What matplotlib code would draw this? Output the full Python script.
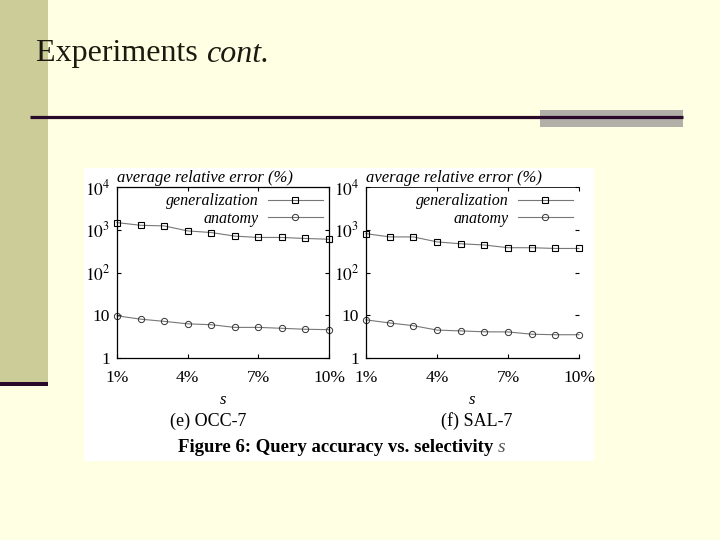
import matplotlib
matplotlib.use("Agg")
import matplotlib.pyplot as plt
from matplotlib.patches import Rectangle

plt.rcParams['font.family'] = ['Liberation Serif', 'DejaVu Serif']
plt.rcParams['mathtext.fontset'] = 'stix'

# data
sel = [1, 2, 3, 4, 5, 6, 7, 8, 9, 10]
occ_gen = [1470, 1270, 1230, 940, 860, 710, 660, 660, 625, 600]
occ_ana = [9.7, 8.1, 7.2, 6.3, 6.0, 5.2, 5.2, 4.95, 4.7, 4.6]
sal_gen = [810, 680, 680, 520, 470, 440, 380, 380, 365, 365]
sal_ana = [7.8, 6.6, 5.7, 4.5, 4.3, 4.1, 4.07, 3.6, 3.5, 3.5]

xticks = [1, 4, 7, 10]
xticklabels = ['1%', '4%', '7%', '10%']
yticks = [1, 10, 100, 1000, 10000]
yticklabels = ['1', '10', '$10^2$', '$10^3$', '$10^4$']
series_names = ['generalization', 'anatomy']
subcaps = ['(e) OCC-7', '(f) SAL-7']

W, H = 720, 540
fig = plt.figure(figsize=(7.2, 5.4), dpi=100)
fig.patch.set_facecolor('#FFFFE3')

# slide decoration, drawn in pixel space
bg = fig.add_axes([0, 0, 1, 1])
bg.set_xlim(0, W)
bg.set_ylim(H, 0)
bg.axis('off')
bg.add_patch(Rectangle((0, 0), 48, 386, color='#CCCC99', lw=0))
bg.add_patch(Rectangle((0, 382), 48, 4, color='#2A0A2A', lw=0))
bg.add_patch(Rectangle((540, 110), 143, 17, color='#B0B0A8', lw=0))
bg.plot([30, 683], [117, 117], color='#2A0A2A', lw=2.3, solid_capstyle='butt')
bg.add_patch(Rectangle((84, 168), 510, 293, color='white', lw=0))

fig.canvas.draw()
r = fig.canvas.get_renderer()


def after(t):
    # x position (pixels) just after a text
    bb = t.get_window_extent(renderer=r)
    return bb.x1


t1 = bg.text(36, 54, 'Experiments ', fontsize=23, va='center', ha='left', color='#1a1a10')
bg.text(after(t1), 54, 'cont.', fontsize=23, va='center', ha='left', style='italic', color='#1a1a10')

bg.text(208, 421, subcaps[0], fontsize=13, ha='center', va='center')
bg.text(477, 421, subcaps[1], fontsize=13, ha='center', va='center')
t2 = bg.text(178, 448, 'Figure 6: Query accuracy vs. selectivity ', fontsize=13.5,
             fontweight='bold', ha='left', va='center')
bg.text(after(t2), 448, 's', fontsize=14, style='italic', ha='left', va='center', color='#555555')


def panel(rect, gen, ana, right_box):
    ax = fig.add_axes(rect)
    ax.set_facecolor('white')
    ax.plot(sel, gen, color='#777777', lw=0.8, marker='s', ms=5,
            mfc='none', mec='black', mew=0.8, label=series_names[0], clip_on=False)
    ax.plot(sel, ana, color='#777777', lw=0.8, marker='o', ms=4.5,
            mfc='none', mec='#333333', mew=0.7, label=series_names[1], clip_on=False)
    ax.set_yscale('log')
    ax.set_xlim(1, 10)
    ax.set_ylim(1, 10000)
    ax.set_xticks(xticks)
    ax.set_xticklabels(xticklabels)
    ax.set_yticks(yticks)
    ax.set_yticklabels(yticklabels)
    ax.minorticks_off()
    ax.tick_params(direction='in', labelsize=12.5, length=3, width=0.8,
                   top=True, right=True, pad=5)
    ax.tick_params(axis='x', pad=9)
    for s in ax.spines.values():
        s.set_linewidth(0.9)
    if not right_box:
        ax.spines['right'].set_visible(False)
        ax.spines['top'].set_linewidth(0.6)
    ax.text(0.0, 1.005, 'average relative error (%)', transform=ax.transAxes,
            fontsize=12, style='italic', ha='left', va='bottom')
    ax.set_xlabel('s', fontsize=12, style='italic', labelpad=4)
    ax.legend(loc='upper right', frameon=False, markerfirst=False,
              handlelength=3.4, labelspacing=0.1, borderaxespad=0.0,
              handletextpad=0.6, prop={'style': 'italic', 'size': 11.5})
    return ax


panel([117 / W, 1 - 358 / H, 212 / W, 171 / H], occ_gen, occ_ana, True)
panel([366 / W, 1 - 358 / H, 213 / W, 171 / H], sal_gen, sal_ana, False)

fig.savefig('out.png', dpi=100, facecolor=fig.get_facecolor())
